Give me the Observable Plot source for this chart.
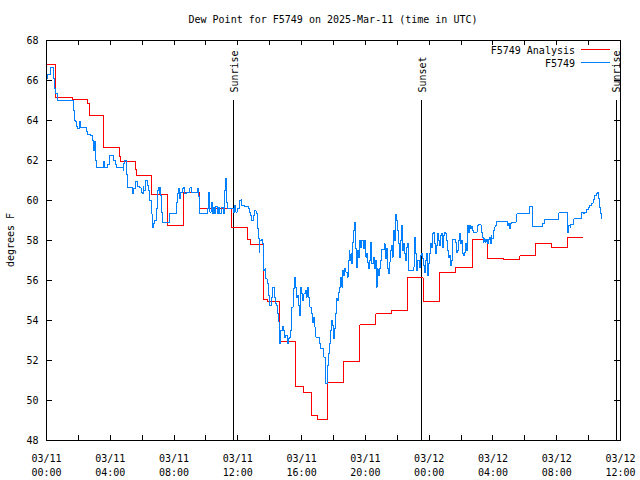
<!DOCTYPE html>
<html><head><meta charset="utf-8">
<script src="https://cdn.jsdelivr.net/npm/d3@7"></script>
<script src="https://cdn.jsdelivr.net/npm/@observablehq/plot@0.6"></script>
<style>
body{margin:0;background:#fff}
svg path, svg line, svg rect {shape-rendering: crispEdges}
</style>
</head><body><div id="chart"></div>
<script>
const titleText = "Dew Point for F5749 on 2025-Mar-11 (time in UTC)";
const yLabel = "degrees F";
const seriesNames = ["F5749 Analysis", "F5749"];
const seriesColors = ["#ff0000", "#0080ff"];
const yTicks = [48, 50, 52, 54, 56, 58, 60, 62, 64, 66, 68];
const xLabelHours = [0, 4, 8, 12, 16, 20, 24, 28, 32, 36];
const xTickHours = [0, 2, 4, 6, 8, 10, 12, 14, 16, 18, 20, 22, 24, 26, 28, 30, 32, 34, 36];
const eventHours = [11.72, 23.51, 35.72];
const eventNames = ["Sunrise", "Sunset", "Sunrise"];

// hourly analysis (step changes), hours since 2025-03-11 00:00 UTC
const analysisHours = [0.0,0.58,1.62,2.59,2.68,3.58,4.58,4.66,5.59,5.66,6.57,7.58,8.58,9.58,11.61,12.59,12.80,13.59,13.87,14.6,15.6,16.14,16.65,17.02,17.63,18.61,19.66,20.66,21.66,22.65,23.62,24.65,25.67,26.7,27.68,28.68,29.69,30.67,31.67,32.68,33.65];
const analysisDew = [66.8,65.13,65.05,64.85,64.23,62.63,62.2,61.95,61.55,61.25,60.3,58.75,60.4,59.58,58.63,58.03,57.8,55.03,54.93,52.93,50.7,50.4,49.23,49.03,50.9,51.93,53.78,54.33,54.5,56.13,54.97,56.4,56.63,58.03,57.08,57.03,57.23,57.85,57.63,58.13,58.13];

// observations [hours, dew point F]
const obsSeries = [[0.00,66.1],[0.05,66.3],[0.26,66.63],[0.47,66.1],[0.53,65.6],[0.59,65.35],[0.72,65.0],[1.70,64.5],[1.73,64.0],[1.83,63.93],[1.89,63.68],[1.97,63.6],[2.05,63.93],[2.14,63.63],[2.51,63.47],[2.59,63.3],[2.76,63.27],[2.87,63.02],[2.93,62.52],[3.02,62.93],[3.06,62.02],[3.14,61.63],[3.56,61.97],[3.64,61.67],[3.80,61.63],[3.85,61.8],[3.95,62.27],[4.22,62.0],[4.30,61.8],[4.38,61.63],[4.80,61.5],[4.84,61.85],[4.90,62.0],[5.02,61.3],[5.06,60.63],[5.39,60.35],[5.47,60.6],[5.56,60.97],[5.72,60.68],[5.85,60.63],[5.93,60.4],[6.01,60.35],[6.07,60.7],[6.11,60.5],[6.24,61.0],[6.32,60.75],[6.38,60.5],[6.49,60.0],[6.56,59.33],[6.62,58.67],[6.70,58.87],[6.79,59.0],[6.87,59.58],[6.95,60.5],[7.02,60.67],[7.08,60.33],[7.12,60.67],[7.16,60.25],[7.22,59.42],[7.29,58.92],[7.70,59.33],[7.78,59.37],[8.16,59.92],[8.22,60.33],[8.28,60.58],[8.36,60.08],[8.43,60.42],[8.53,60.58],[8.61,60.67],[8.67,60.33],[8.78,60.4],[8.99,60.63],[9.09,60.4],[9.45,60.58],[9.53,60.2],[9.58,59.37],[10.09,59.58],[10.15,60.42],[10.21,60.08],[10.25,59.42],[10.33,59.92],[10.39,59.37],[10.46,59.63],[10.52,59.37],[10.60,59.7],[10.71,59.37],[10.79,59.63],[10.87,59.33],[10.97,59.67],[11.08,59.37],[11.16,60.5],[11.22,61.08],[11.29,59.92],[11.35,59.58],[11.71,59.42],[11.79,59.75],[11.88,59.42],[11.96,59.58],[12.08,59.83],[12.13,60.0],[12.20,60.03],[12.26,59.75],[12.40,59.7],[12.64,59.58],[12.72,59.42],[12.81,59.25],[12.87,59.0],[12.97,59.25],[13.06,59.5],[13.14,59.33],[13.22,58.58],[13.28,58.08],[13.35,57.42],[13.39,58.0],[13.49,58.03],[13.55,57.83],[13.60,56.5],[13.70,56.58],[13.76,56.08],[13.84,55.83],[13.91,55.25],[13.97,55.0],[14.01,54.75],[14.09,55.17],[14.16,55.63],[14.28,55.17],[14.34,54.83],[14.42,54.75],[14.51,54.33],[14.57,53.92],[14.63,52.83],[14.69,53.5],[14.78,53.7],[14.84,53.5],[14.92,53.17],[15.01,53.25],[15.09,52.87],[15.17,53.08],[15.25,53.17],[15.33,53.5],[15.39,54.67],[15.47,55.58],[15.53,56.13],[15.60,55.67],[15.68,55.17],[15.74,55.25],[15.80,54.75],[15.87,54.25],[15.93,55.67],[15.99,55.33],[16.06,55.0],[16.14,55.33],[16.23,55.5],[16.29,55.17],[16.35,55.63],[16.44,55.17],[16.52,54.67],[16.60,54.33],[16.68,53.92],[16.77,54.17],[16.83,53.67],[16.89,53.17],[17.10,52.83],[17.18,52.58],[17.40,52.17],[17.48,51.75],[17.52,50.83],[17.61,51.75],[17.67,52.33],[17.74,52.83],[17.82,53.5],[17.89,54.0],[17.95,53.75],[18.01,53.08],[18.07,53.58],[18.13,54.33],[18.20,55.08],[18.26,55.0],[18.32,55.42],[18.40,55.67],[18.47,56.17],[18.53,55.67],[18.57,56.5],[18.63,56.25],[18.69,56.58],[18.78,56.42],[18.86,56.17],[18.92,57.0],[18.98,57.5],[19.03,57.0],[19.09,57.33],[19.15,56.83],[19.21,57.92],[19.27,58.5],[19.34,58.92],[19.40,57.58],[19.45,56.67],[19.51,57.5],[19.57,57.17],[19.64,58.0],[19.70,57.67],[19.78,58.0],[19.91,57.58],[19.97,58.0],[20.03,57.17],[20.09,57.33],[20.15,56.92],[20.22,56.58],[20.28,57.0],[20.34,57.92],[20.40,56.83],[20.49,57.17],[20.55,56.58],[20.61,57.0],[20.67,55.67],[20.74,56.58],[20.80,56.25],[20.86,56.58],[20.94,57.0],[21.01,57.53],[21.18,57.83],[21.24,57.08],[21.30,57.58],[21.37,56.58],[21.43,56.33],[21.49,56.92],[21.55,57.5],[21.62,57.75],[21.68,57.17],[21.74,58.5],[21.80,58.0],[21.86,58.25],[21.91,59.3],[21.97,59.0],[22.01,58.5],[22.07,57.83],[22.13,57.17],[22.20,58.0],[22.26,58.75],[22.32,57.5],[22.38,57.83],[22.45,57.33],[22.51,57.0],[22.57,57.67],[22.63,57.83],[22.69,56.5],[22.99,56.67],[23.06,58.17],[23.12,57.33],[23.20,56.5],[23.26,57.0],[23.37,56.67],[23.45,57.25],[23.51,57.33],[23.57,57.08],[23.64,56.75],[23.70,56.42],[23.76,57.0],[23.83,57.33],[23.90,56.25],[23.96,56.83],[24.02,57.33],[24.08,57.83],[24.14,57.67],[24.22,58.33],[24.28,58.42],[24.34,57.83],[24.40,57.33],[24.47,57.75],[24.53,58.33],[24.59,58.0],[24.65,57.75],[24.72,58.25],[24.78,58.33],[24.84,57.67],[24.90,58.25],[24.96,58.42],[25.03,58.33],[25.09,58.0],[25.15,57.5],[25.21,57.17],[25.27,57.25],[25.34,56.75],[25.40,57.0],[25.46,58.03],[25.65,57.92],[25.71,57.42],[25.77,57.5],[25.83,58.0],[25.90,58.33],[25.96,57.83],[26.02,58.0],[26.08,57.33],[26.15,57.25],[26.22,57.42],[26.28,57.83],[26.34,57.5],[26.40,58.75],[26.47,58.42],[26.53,58.75],[26.59,58.58],[26.65,58.7],[26.71,58.5],[26.78,58.42],[27.01,58.75],[27.08,58.78],[27.26,58.42],[27.33,58.17],[27.39,57.92],[27.45,58.08],[27.51,57.92],[27.57,58.03],[27.64,57.83],[27.70,58.03],[27.76,58.17],[27.82,57.83],[27.88,58.25],[27.94,58.08],[28.01,58.5],[28.07,58.67],[28.13,58.75],[28.20,58.95],[28.91,58.75],[28.97,58.87],[29.04,58.58],[29.10,58.83],[29.16,58.92],[29.45,59.0],[29.50,59.33],[30.30,59.7],[30.50,58.7],[31.09,58.83],[31.21,59.03],[32.14,59.38],[32.67,58.42],[32.77,58.75],[32.84,58.67],[32.88,58.8],[33.08,59.08],[33.57,59.42],[33.66,59.37],[33.76,59.42],[33.86,59.53],[33.97,59.63],[34.07,59.75],[34.17,59.87],[34.28,60.03],[34.39,60.25],[34.50,60.37],[34.56,60.42],[34.60,60.08],[34.68,59.67],[34.74,59.33],[34.81,59.08]];

const t0 = Date.UTC(2025, 2, 11, 0, 0);
const toDate = h => new Date(t0 + h * 3600e3);
const FONT = "DejaVu Sans Mono, monospace";

const plot = Plot.plot({
  width: 640,
  height: 480,
  marginLeft: 46,
  marginRight: 20,
  marginTop: 40,
  marginBottom: 40,
  style: {fontFamily: FONT, fontSize: "10px", background: "#fff", color: "#000", overflow: "visible"},
  x: {type: "utc", domain: [toDate(0), toDate(36)]},
  y: {domain: [48, 68]},
  marks: [
    Plot.axisX(xLabelHours.map(toDate), {anchor: "bottom", tickSize: 0, tickPadding: 12, tickFormat: d3.utcFormat("%m/%d\n%H:%M"), lineHeight: 1.4, label: null}),
    Plot.axisY(yTicks, {anchor: "left", tickSize: 0, tickPadding: 8, label: null}),
    Plot.tickX(xTickHours, {x: toDate, insetTop: 395, stroke: "#000"}),
    Plot.tickX(xTickHours, {x: toDate, insetBottom: 395, stroke: "#000"}),
    Plot.tickY(yTicks, {y: d => d, insetRight: 568, stroke: "#000"}),
    Plot.tickY(yTicks, {y: d => d, insetLeft: 568, stroke: "#000"}),
    Plot.ruleX(eventHours, {x: toDate, insetTop: 60, stroke: "#000"}),
    Plot.text(eventHours, {x: toDate, text: (d, i) => eventNames[i], frameAnchor: "top", dy: 52, dx: 1, rotate: -90, textAnchor: "start", lineAnchor: "middle", fill: "#000"}),
    Plot.line(analysisHours, {x: toDate, y: (d, i) => analysisDew[i], curve: "step-after", stroke: seriesColors[0], strokeWidth: 1}),
    Plot.line(obsSeries, {x: d => toDate(d[0]), y: d => d[1], curve: "step-after", stroke: seriesColors[1], strokeWidth: 1}),
    Plot.frame({stroke: "#000"})
  ]
});

const svg = d3.select(plot);
svg.append("text")
  .attr("x", 333).attr("y", 19).attr("dy", "0.35em")
  .attr("text-anchor", "middle").attr("font-family", FONT).attr("font-size", 10)
  .attr("fill", "#000").text(titleText);
svg.append("text")
  .attr("transform", "translate(10,240) rotate(-90)").attr("dy", "0.35em")
  .attr("text-anchor", "middle").attr("font-family", FONT).attr("font-size", 10)
  .attr("fill", "#000").text(yLabel);
const leg = svg.append("g").attr("font-family", FONT).attr("font-size", 10);
seriesNames.forEach((name, i) => {
  const yy = 50.5 + i * 13;
  leg.append("text").attr("x", 575).attr("y", yy).attr("dy", "0.35em")
    .attr("text-anchor", "end").attr("fill", "#000").text(name);
  leg.append("line").attr("x1", 581).attr("x2", 610).attr("y1", yy - 1).attr("y2", yy - 1)
    .attr("stroke", seriesColors[i]).attr("stroke-width", 1);
});
document.getElementById("chart").appendChild(plot);
</script>
</body></html>
